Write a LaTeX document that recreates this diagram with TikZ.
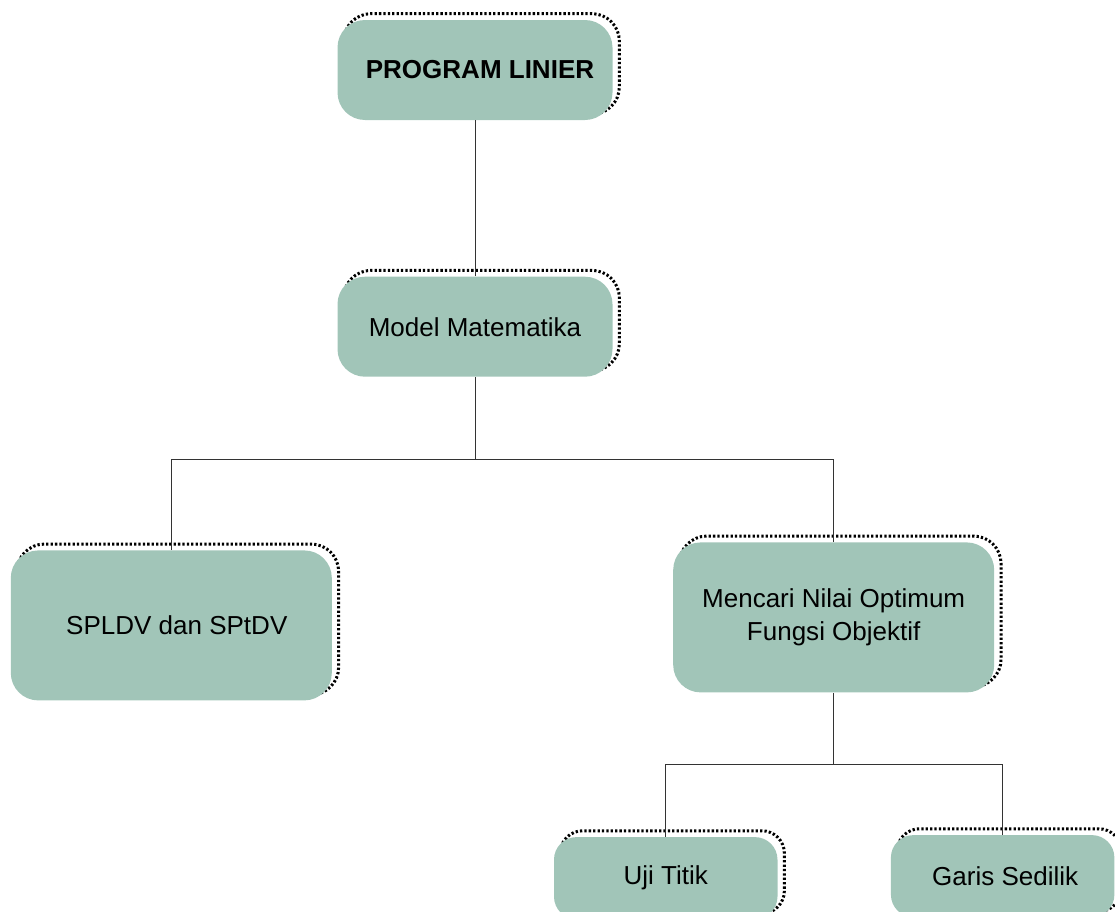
\documentclass[tikz,border=0pt]{standalone}
\usepackage{fontspec}
\setmainfont{Liberation Sans}
\usepackage{tikz}
\usetikzlibrary{positioning, backgrounds}

\definecolor{sagegreen}{RGB}{161,197,184}

\begin{document}
\begin{tikzpicture}[
    topic/.style={rectangle, rounded corners=0.55cm, fill=sagegreen, inner sep=0pt, align=center, font=\fontsize{14.8}{18.5}\selectfont},
    bigtopic/.style={topic, minimum width=6.42cm, minimum height=3cm},
    midtopic/.style={topic, minimum width=5.5cm, minimum height=2cm},
    subtopic/.style={topic, rounded corners=0.45cm, minimum width=4.47cm, minimum height=1.64cm},
    dotrim/.style={draw=black, line width=1.7pt, dash pattern=on 1.3pt off 1.2pt},
    link/.style={draw=black!80, line width=0.5pt},
]
    \useasboundingbox (0,0) rectangle (22.3,-18.24);

    % Boxes
    \node[midtopic, font=\fontsize{14.8}{18.5}\selectfont\bfseries] (pl) at (9.5,-1.4) {\hspace*{0.2cm}PROGRAM LINIER};
    \node[midtopic, below=3.12cm of pl] (mm) {Model Matematika};
    \node[bigtopic, below left=3.46cm and 0.1cm of mm] (sp) {\hspace*{0.22cm}SPLDV dan SPtDV};
    \node[bigtopic, below right=3.3cm and 1.2cm of mm] (mc) {Mencari Nilai Optimum\\Fungsi Objektif};
    \node[subtopic, below left=2.88cm and -2.1cm of mc] (ut) {Uji Titik};
    \node[subtopic, below right=2.84cm and -2.08cm of mc] (gs) {\hspace*{0.1cm}Garis Sedilik};

    % Dotted rims
    \begin{scope}[on background layer]
        \foreach \n/\r in {pl/0.55cm, mm/0.55cm, sp/0.55cm, mc/0.55cm, ut/0.45cm, gs/0.45cm}
            \draw[dotrim, rounded corners=\r] ([shift={(0.13,0.12)}]\n.south west) rectangle ([shift={(0.13,0.12)}]\n.north east);
    \end{scope}

    % Junctions
    \coordinate (j1) at ([yshift=-1.64cm]mm.south);
    \coordinate (j2) at ([yshift=-1.44cm]mc.south);

    % Links
    \draw[link] (pl) -- (mm);
    \draw[link] (mm) -- (j1);
    \draw[link] (sp.north) |- (j1) -| (mc.north);
    \draw[link] (mc) -- (j2);
    \draw[link] (ut.north) |- (j2) -| (gs.north);
\end{tikzpicture}
\end{document}
